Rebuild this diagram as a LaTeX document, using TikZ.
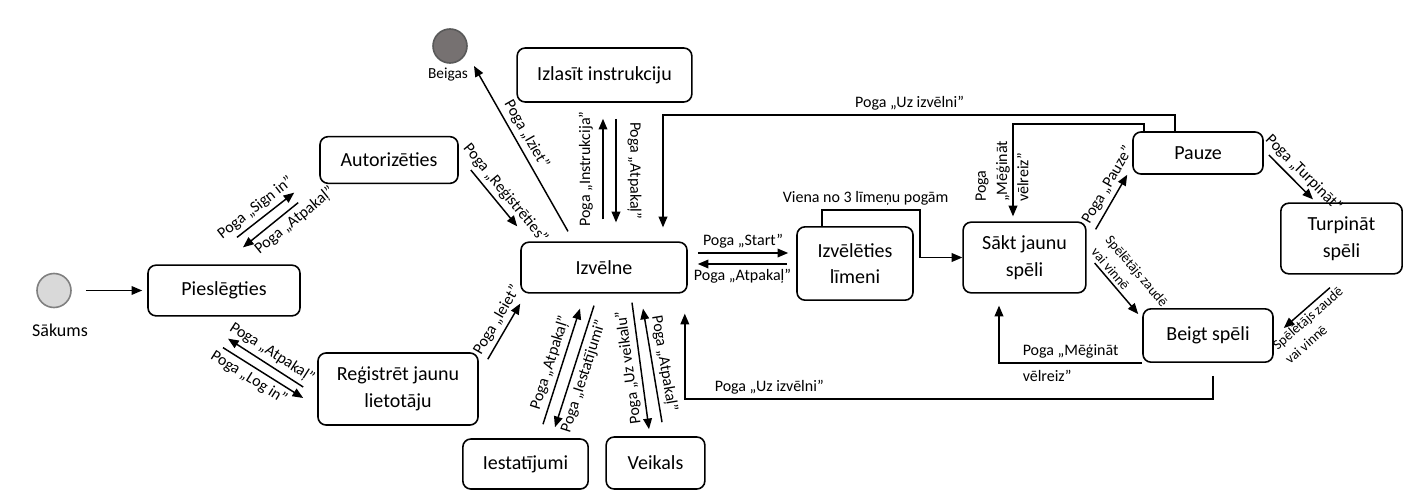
\documentclass[tikz,border=0pt]{standalone}
\usepackage{fontspec}
\setmainfont{Carlito}
\usetikzlibrary{arrows.meta, calc}
\definecolor{enddotfill}{RGB}{118,113,113}
\tikzstyle{state}     = [rectangle, rounded corners=6pt, line width=1.2pt, draw=black, align=center, font=\fontsize{15}{20}\selectfont]
\tikzstyle{startdot}  = [circle, minimum size=25.5pt, inner sep=0pt, line width=1.2pt, draw=black!50, fill=black!15]
\tikzstyle{enddot}    = [circle, minimum size=25.5pt, inner sep=0pt, line width=1.2pt, draw=black!65, fill=enddotfill]
\tikzstyle{arrow}     = [line width=1.1pt, -{Triangle[length=8pt,width=6.5pt]}]
\tikzstyle{arrowback} = [line width=1.1pt, {Triangle[length=8pt,width=6.5pt]}-]
\tikzstyle{lbl}       = [font=\fontsize{12}{14}\selectfont, inner sep=3pt]
\tikzstyle{small}     = [font=\fontsize{10.5}{14}\selectfont, inner sep=2pt]

\begin{document}
\begin{tikzpicture}[x=0.75pt, y=-0.75pt]
    \useasboundingbox (0,0) rectangle (1407,496);

    \node (start)  at (54,290.5)    [startdot] {};
    \node (startl) at (60,330)      [font=\fontsize{13.5}{16}\selectfont] {Sākums};
    \node (end)    at (450,46)      [enddot] {};
    \node (endl)   at (448,75)      [font=\fontsize{11.5}{14}\selectfont] {Beigas};

    \node (piesl)  at (224,290.5)   [state, minimum width=114pt, minimum height=38pt]   {Pieslēgties};
    \node (autor)  at (389,160)     [state, minimum width=103.5pt, minimum height=35pt] {Autorizēties};
    \node (regist) at (398,389)     [state, minimum width=120pt, minimum height=54pt]   {Reģistrēt jaunu\\lietotāju};
    \node (instr)  at (604.5,75)    [state, minimum width=131pt, minimum height=40.5pt] {Izlasīt instrukciju};
    \node (izv)    at (604,267.5)   [state, minimum width=124.5pt, minimum height=38pt] {Izvēlne};
    \node (iestat) at (525.5,464)   [state, minimum width=94pt, minimum height=37.5pt]  {Iestatījumi};
    \node (veik)   at (655.5,463)   [state, minimum width=74pt, minimum height=39pt]    {Veikals};
    \node (limen)  at (855,263.5)   [state, minimum width=87pt, minimum height=55pt]    {Izvēlēties\\līmeni};
    \node (sakt)   at (1024.5,257.5)[state, minimum width=92pt, minimum height=53pt]    {Sākt jaunu\\spēli};
    \node (pauze)  at (1198,153)    [state, minimum width=97.5pt, minimum height=31.5pt]{Pauze};
    \node (turp)   at (1341.5,238.5)[state, minimum width=91pt, minimum height=53pt]    {Turpināt\\spēli};
    \node (beigt)  at (1208,335.5)  [state, minimum width=97.5pt, minimum height=40pt]  {Beigt spēli};

    \draw [arrow, shorten <=10.5pt, shorten >=3.75pt] (start) -- (piesl);
    \draw [arrow] ($(piesl.north)+(13,-27)$) -- node[lbl, sloped, above, pos=0.45] (l1) {Poga „Sign in”} ($(autor.south west)+(-25,8.5)$);
    \draw [arrow] ($(autor.south west)+(-21,18.5)$) -- node[lbl, sloped, below, pos=0.2] (l2) {Poga „Atpakaļ”} ($(piesl.north)+(19,-17)$);
    \draw [arrow] ($(regist.west)+(-14,-2)$) -- node[lbl, sloped, above, pos=0.5] (l3) {Poga „Atpakaļ”} ($(piesl.south)+(4,22)$);
    \draw [arrow] ($(piesl.south)+(-1,31)$) -- node[lbl, sloped, below, pos=0.4] (l4) {Poga „Log in”} ($(regist.west)+(-14,9)$);
    \draw [arrow] ($(autor.east)+(12,10)$) -- node[lbl, sloped, above, pos=0.55] (l5) {Poga „Reģistrēties”} ($(izv.north west)+(-3,-15)$);
    \draw [arrow] ($(izv.north)+(-36,-10)$) -- node[lbl, sloped, above, pos=0.55] (l6) {Poga „Iziet”} ($(end)+(24,20)$);
    \draw [arrow] ($(izv.north)+(-1,-22)$) -- node[lbl, sloped, above=4pt] (l7) {Poga „Instrukcija”} ($(instr.south)+(-1.5,16)$);
    \draw [arrow] ($(instr.south)+(11.5,16)$) -- node[lbl, sloped, above=5pt] (l8) {Poga „Atpakaļ”} ($(izv.north)+(12,-19)$);
    \draw [arrow] ($(regist.north east)+(9,7)$) -- node[lbl, sloped, above, pos=0.6] (l9) {Poga „Ieiet”} ($(izv.south west)+(0,10)$);
    \draw [arrow] ($(iestat.north)+(17.5,-14)$) -- node[lbl, sloped, above] (l10) {Poga „Atpakaļ”} ($(izv.south)+(-24,15)$);
    \draw [arrow] ($(izv.south)+(-10,12)$) -- node[lbl, sloped, below, pos=0.55] (l11) {Poga „Iestatījumi”} ($(iestat.north)+(29.5,-11)$);
    \draw [arrowback] ($(veik.north)+(-6.5,-7)$) -- node[lbl, sloped, above, allow upside down] (l12) {Poga „Uz veikalu”} ($(izv.south)+(28,9)$);
    \draw [arrow] ($(veik.north)+(6.5,-14)$) -- node[lbl, sloped, above] (l13) {Poga „Atpakaļ”} ($(izv.south)+(39,15)$);
    \draw [arrow] ($(izv.east)+(10,-14.5)$) -- node[lbl, above] (l14) {Poga „Start”} ($(limen.west)+(-8,-10.5)$);
    \draw [arrow] ($(limen.west)+(-9,0.5)$) -- node[lbl, below] (l15) {Poga „Atpakaļ”} ($(izv.east)+(10,-3.5)$);
    \draw [arrow] ($(limen.north)+(-33,0)$) -- ++(0,-16) -- node[lbl, above, xshift=-4pt] (l16) {Viena no 3 līmeņu pogām} ++(98,0) |- (sakt.west);
    \draw [arrow] ($(pauze.north)+(-23,0)$) -- ++(0,-16) -| node[lbl, above, pos=0.25, xshift=-7pt] (l17) {Poga „Uz izvēlni”} ($(izv.north)+(59,-14)$);
    \draw [arrow] ($(pauze.north west)+(12,0)$) -- ++(0,-7) -| ($(sakt.north)+(-11.5,-5)$);
    \node (l18) at ($(sakt.north)+(-22.5,-50)$) [lbl, rotate=90, align=left, font=\fontsize{12}{16}\selectfont] {Poga\\„Mēģināt\\vēlreiz”};
    \draw [arrow] ($(sakt.north east)+(9,8)$) -- node[lbl, sloped, above, pos=0.7] (l19) {Poga „Pauze”} ($(pauze.south west)+(-5,0)$);
    \draw [arrow] ($(sakt.east)+(8,5.5)$) -- node[small, sloped, above, align=left, pos=0.5] (l20) {Spēlētājs zaudē\\vai vinnē} ($(beigt.north west)+(-4,6)$);
    \draw [arrow] ($(pauze.east)+(5,2)$) -- node[lbl, sloped, above, pos=0.6] (l21) {Poga „Turpināt”} ($(turp.north)+(-28.5,-3)$);
    \draw [arrow] ($(turp.south)+(-11.5,13)$) -- node[small, sloped, below, align=left, pos=0.6] (l22) {Spēlētājs zaudē\\vai vinnē} ($(beigt.east)+(10,-7.5)$);
    \draw [arrow] (beigt.south west) -| node[lbl, pos=0.25, align=left, font=\fontsize{12}{19.5}\selectfont] (l23) {Poga „Mēģināt\\vēlreiz”} ($(sakt.south)+(-25.5,12)$);
    \draw [arrow] ($(beigt.south)+(5,13)$) -- ++(0,23) -| node[lbl, above, pos=0.42] (l24) {Poga „Uz izvēlni”} ($(izv.south east)+(-3,20)$);
\end{tikzpicture}
\end{document}
